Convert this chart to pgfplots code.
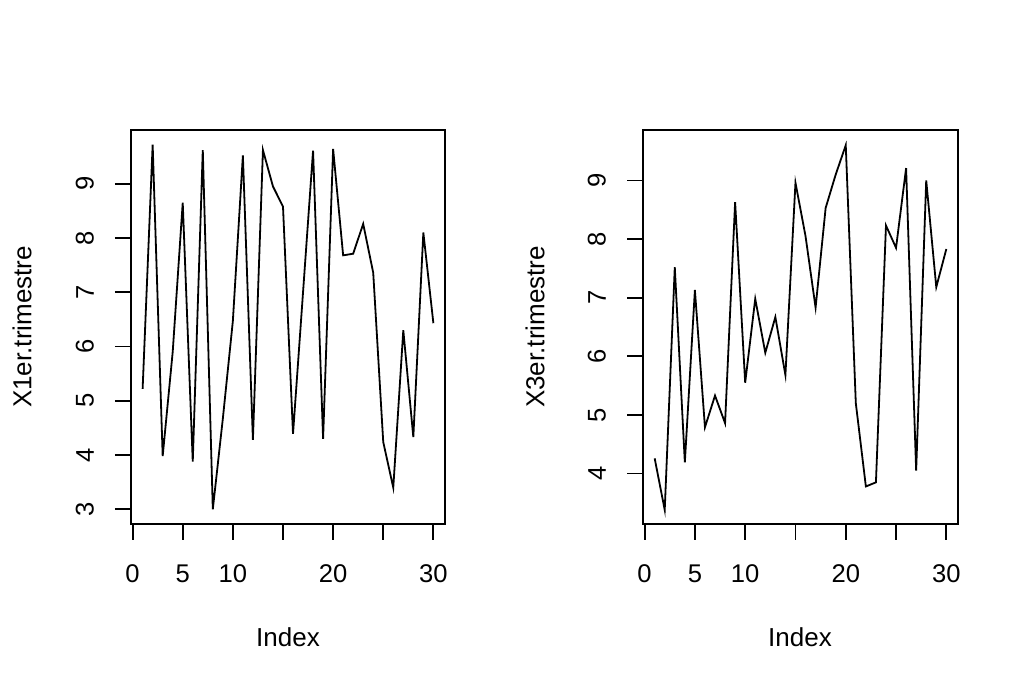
\documentclass[border=0pt]{standalone}
\usepackage{fontspec}
\setmainfont{Liberation Sans}
\usepackage{pgfplots}
\pgfplotsset{compat=1.18}
\begin{document}
\begin{tikzpicture}
\path[use as bounding box] (0pt,0pt) rectangle (512pt,344pt);
\pgfplotsset{
  rstyle/.style={
    scale only axis,
    anchor=south west,
    height=197pt,
    xmin=-0.16, xmax=31.16,
    xtick={0,5,10,15,20,25,30},
    xticklabels={0,5,10,,20,,30},
    tick align=outside,
    tick pos=left,
    major tick length=8pt,
    axis line style={line width=0.9pt},
    every tick/.style={black, line width=0.9pt},
    /pgf/number format/assume math mode=true,
    every tick label/.append style={font=\fontsize{12.8}{15}\selectfont},
    xticklabel style={yshift=-9pt},
    yticklabel style={xshift=-7pt, rotate=90, anchor=south},
    clip=false,
  }
}
\begin{axis}[rstyle, at={(65.5pt,82pt)}, width=157pt,
  ymin=2.73, ymax=9.99, ytick={3,4,5,6,7,8,9}]
\addplot[black, line width=0.9pt] coordinates {
(1,5.22)(2,9.72)(3,3.98)(4,5.9)(5,8.65)(6,3.88)(7,9.62)(8,3.0)(9,4.67)(10,6.47)
(11,9.52)(12,4.28)(13,9.62)(14,8.95)(15,8.58)(16,4.39)(17,7.0)(18,9.61)(19,4.30)(20,9.64)
(21,7.68)(22,7.71)(23,8.26)(24,7.36)(25,4.24)(26,3.40)(27,6.30)(28,4.33)(29,8.10)(30,6.43)};
\end{axis}
\begin{axis}[rstyle, at={(321.5pt,82pt)}, width=157.5pt,
  ymin=3.14, ymax=9.86, ytick={4,5,6,7,8,9}]
\addplot[black, line width=0.9pt] coordinates {
(1,4.26)(2,3.38)(3,7.52)(4,4.19)(5,7.13)(6,4.79)(7,5.33)(8,4.86)(9,8.63)(10,5.55)
(11,6.98)(12,6.06)(13,6.67)(14,5.68)(15,8.96)(16,8.05)(17,6.83)(18,8.53)(19,9.10)(20,9.60)
(21,5.20)(22,3.78)(23,3.85)(24,8.23)(25,7.85)(26,9.21)(27,4.05)(28,9.00)(29,7.18)(30,7.83)};
\end{axis}
\node[font=\fontsize{13}{15}\selectfont] at (144pt,25.5pt) {Index};
\node[font=\fontsize{13}{15}\selectfont] at (400pt,25.5pt) {Index};
\node[font=\fontsize{13}{15}\selectfont, rotate=90] at (11pt,180.5pt) {X1er.trimestre};
\node[font=\fontsize{13}{15}\selectfont, rotate=90] at (267.5pt,180.5pt) {X3er.trimestre};
\end{tikzpicture}
\end{document}
